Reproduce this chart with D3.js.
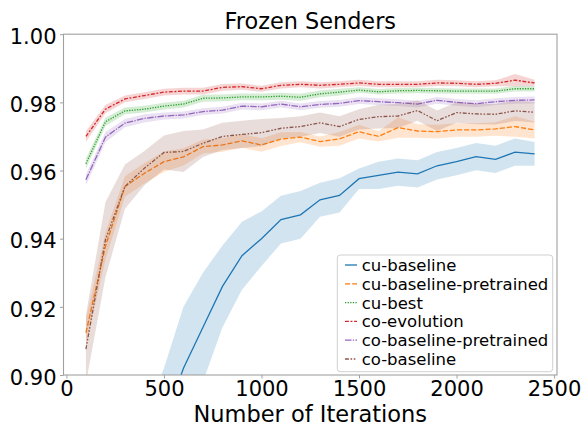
<!DOCTYPE html>
<html>
<head>
<meta charset="utf-8">
<script src="https://cdn.jsdelivr.net/npm/d3@7"></script>
<style>
  html, body { margin: 0; padding: 0; background: #fff; }
  svg { display: block; font-family: "DejaVu Sans", sans-serif; }
</style>
</head>
<body>
<svg id="chart" width="585" height="425"></svg>
<script>
// ---------------- data ----------------
const iterations = [100, 200, 300, 400, 500, 600, 700, 800, 900, 1000, 1100, 1200,
                    1300, 1400, 1500, 1600, 1700, 1800, 1900, 2000, 2100, 2200, 2300, 2400];

const seriesNames = ["cu-baseline", "cu-baseline-pretrained", "cu-best",
                     "co-evolution", "co-baseline-pretrained", "co-baseline"];

const cuBaseline = [0.800, 0.830, 0.850, 0.870, 0.886, 0.902, 0.914, 0.926, 0.935, 0.940, 0.9456, 0.947,
                    0.9514, 0.9527, 0.9576, 0.9586, 0.9595, 0.9590, 0.9614, 0.9626, 0.9641, 0.9633, 0.9654, 0.9649];
const cuBaselineCI = [0.020, 0.020, 0.020, 0.018, 0.016, 0.018, 0.016, 0.012, 0.010, 0.008, 0.007, 0.007,
                      0.005, 0.005, 0.003, 0.004, 0.004, 0.004, 0.004, 0.004, 0.004, 0.004, 0.004, 0.0035];

const cuBaselinePretrained = [0.9124, 0.9378, 0.9553, 0.9592, 0.9626, 0.9640, 0.9670, 0.9675, 0.9687, 0.9675, 0.9692, 0.9698,
                              0.9685, 0.9693, 0.9714, 0.9700, 0.9726, 0.9716, 0.9714, 0.9719, 0.9719, 0.9722, 0.9729, 0.9719];
const cuBaselinePretrainedCI = [0.004, 0.004, 0.003, 0.003, 0.003, 0.0025, 0.002, 0.002, 0.002, 0.002, 0.002, 0.0015,
                                0.0015, 0.002, 0.002, 0.0015, 0.003, 0.002, 0.002, 0.002, 0.002, 0.002, 0.003, 0.0025];

const cuBest = [0.9620, 0.9743, 0.9775, 0.9780, 0.9789, 0.9795, 0.9812, 0.9813, 0.9816, 0.9816, 0.9818, 0.9815,
                0.9825, 0.9830, 0.9836, 0.9831, 0.9834, 0.9835, 0.9834, 0.9833, 0.9833, 0.9833, 0.9840, 0.9840];
const cuBestCI = [0.0015, 0.0012, 0.001, 0.001, 0.001, 0.001, 0.001, 0.001, 0.001, 0.001, 0.001, 0.001,
                  0.001, 0.001, 0.0008, 0.0008, 0.0008, 0.0008, 0.0008, 0.0008, 0.0008, 0.0008, 0.0008, 0.0008];

const coEvolution = [0.9700, 0.9780, 0.9810, 0.9820, 0.9830, 0.9833, 0.9833, 0.9844, 0.9846, 0.9840, 0.9850, 0.9853,
                     0.9850, 0.9853, 0.9857, 0.9853, 0.9853, 0.9853, 0.9857, 0.9856, 0.9853, 0.9856, 0.9865, 0.9857];
const coEvolutionCI = [0.0016, 0.0012, 0.001, 0.001, 0.001, 0.001, 0.001, 0.001, 0.0009, 0.0009, 0.0009, 0.0009,
                       0.0009, 0.0009, 0.0009, 0.0009, 0.0009, 0.0009, 0.0009, 0.0009, 0.0009, 0.0009, 0.0018, 0.0009];

const coBaselinePretrained = [0.9573, 0.9698, 0.9739, 0.9753, 0.9760, 0.9763, 0.9773, 0.9777, 0.9789, 0.9787, 0.9795, 0.9787,
                              0.9794, 0.9797, 0.9805, 0.9802, 0.9799, 0.9795, 0.9806, 0.9800, 0.9796, 0.9802, 0.9806, 0.9807];
const coBaselinePretrainedCI = [0.0016, 0.0015, 0.0012, 0.0012, 0.001, 0.001, 0.001, 0.001, 0.001, 0.001, 0.001, 0.001,
                                0.001, 0.001, 0.001, 0.001, 0.001, 0.001, 0.001, 0.001, 0.001, 0.001, 0.001, 0.001];

const coBaseline = [0.9076, 0.9397, 0.9553, 0.9607, 0.9653, 0.9656, 0.9680, 0.9700, 0.9706, 0.9711, 0.9724, 0.9729,
                    0.9740, 0.9729, 0.9750, 0.9758, 0.9760, 0.9776, 0.9746, 0.9770, 0.9766, 0.9765, 0.9775, 0.9771];
const coBaselineCI = [0.010, 0.011, 0.0065, 0.005, 0.005, 0.006, 0.004, 0.004, 0.004, 0.004, 0.003, 0.003,
                      0.003, 0.003, 0.003, 0.0035, 0.0035, 0.003, 0.003, 0.003, 0.003, 0.003, 0.003, 0.003];

const xTicks = [0, 500, 1000, 1500, 2000, 2500];
const yTicks = [0.90, 0.92, 0.94, 0.96, 0.98, 1.00];

const colors = ["#1f77b4", "#ff7f0e", "#2ca02c", "#d62728", "#9467bd", "#8c564b"];
const dashUnits = [[], [4, 1.5], [1, 1], [3, 1.25, 1.5, 1.25], [5, 1, 1, 1], [3, 1.25, 1.25, 1.25, 1.25, 1.25]];

const series = [
  {name: seriesNames[0], mean: cuBaseline, ci: cuBaselineCI},
  {name: seriesNames[1], mean: cuBaselinePretrained, ci: cuBaselinePretrainedCI},
  {name: seriesNames[2], mean: cuBest, ci: cuBestCI},
  {name: seriesNames[3], mean: coEvolution, ci: coEvolutionCI},
  {name: seriesNames[4], mean: coBaselinePretrained, ci: coBaselinePretrainedCI},
  {name: seriesNames[5], mean: coBaseline, ci: coBaselineCI}
];

// ---------------- layout ----------------
const plotL = 63.5, plotR = 557, plotT = 34.2, plotB = 375;
const lw = 1.3;
const svg = d3.select("#chart");

const x = d3.scaleLinear().domain([-15, 2515]).range([plotL, plotR]);
const y = d3.scaleLinear().domain([0.90, 1.00]).range([plotB, plotT]);

svg.append("defs").append("clipPath").attr("id", "plotclip")
  .append("rect").attr("x", plotL).attr("y", plotT).attr("width", plotR - plotL).attr("height", plotB - plotT);

const plot = svg.append("g").attr("clip-path", "url(#plotclip)");

series.forEach((s, k) => {
  const pts = iterations.map((it, i) => ({x: it, m: s.mean[i], lo: s.mean[i] - s.ci[i], hi: s.mean[i] + s.ci[i]}));
  const line = d3.line().x(d => x(d.x)).y(d => y(d.m));
  const area = d3.area().x(d => x(d.x)).y0(d => y(d.lo)).y1(d => y(d.hi));
  plot.append("path").datum(pts).attr("d", line)
    .attr("fill", "none").attr("stroke", colors[k]).attr("stroke-width", lw)
    .attr("stroke-dasharray", dashUnits[k].length ? dashUnits[k].map(v => v * lw).join(",") : null);
  plot.append("path").datum(pts).attr("d", area)
    .attr("fill", colors[k]).attr("fill-opacity", 0.2).attr("stroke", "none");
});

// ---------------- axes ----------------
const spineColor = "#a0a0a0";
const xAxis = svg.append("g").attr("transform", `translate(0,${plotB})`)
  .call(d3.axisBottom(x).tickValues(xTicks).tickSize(3.5).tickPadding(3.5).tickFormat(d3.format("d")));
const yAxis = svg.append("g").attr("transform", `translate(${plotL},0)`)
  .call(d3.axisLeft(y).tickValues(yTicks).tickSize(3.5).tickPadding(3.5).tickFormat(d3.format(".2f")));
[xAxis, yAxis].forEach(a => {
  a.select(".domain").remove();
  a.selectAll(".tick line").attr("stroke", spineColor).attr("stroke-width", 1);
  a.selectAll(".tick text").attr("fill", "#000").style("font-size", "21px")
    .style("font-family", "'DejaVu Sans', sans-serif");
});
xAxis.selectAll(".tick text").attr("dy", null).attr("y", 21);
yAxis.selectAll(".tick text").attr("dy", "0.44em");

// spines
svg.append("rect").attr("x", plotL).attr("y", plotT).attr("width", plotR - plotL).attr("height", plotB - plotT)
  .attr("fill", "none").attr("stroke", spineColor).attr("stroke-width", 1.1);

// title and labels
svg.append("text").attr("x", (plotL + plotR) / 2).attr("y", 29.3).attr("text-anchor", "middle")
  .style("font-size", "22.4px").attr("fill", "#000").text("Frozen Senders");
svg.append("text").attr("x", (plotL + plotR) / 2).attr("y", 421.5).attr("text-anchor", "middle")
  .style("font-size", "22.5px").attr("fill", "#000").text("Number of Iterations");

// ---------------- legend ----------------
const lg = svg.append("g");
lg.append("rect").attr("x", 337.3).attr("y", 255).attr("width", 215.4).attr("height", 116.7)
  .attr("rx", 3).attr("fill", "#fff").attr("fill-opacity", 0.8).attr("stroke", "#d0d0d0").attr("stroke-width", 1);
series.forEach((s, k) => {
  const cy = 265 + k * 18.8;
  lg.append("line").attr("x1", 345).attr("x2", 357).attr("y1", cy).attr("y2", cy)
    .attr("stroke", colors[k]).attr("stroke-width", lw)
    .attr("stroke-dasharray", dashUnits[k].length ? dashUnits[k].map(v => v * lw).join(",") : null);
  lg.append("text").attr("x", 361.7).attr("y", cy + 6).style("font-size", "16.5px").attr("fill", "#000").text(s.name);
});
</script>
</body>
</html>
